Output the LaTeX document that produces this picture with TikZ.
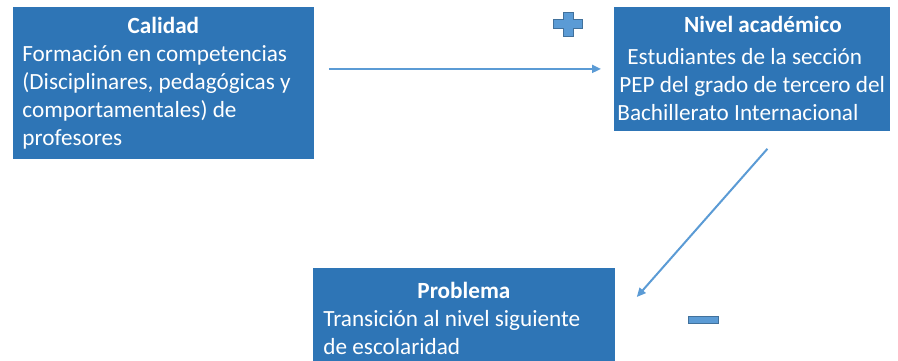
\documentclass[tikz,border=0pt]{standalone}
\usepackage{fontspec}
\setmainfont{Carlito}
\usetikzlibrary{arrows.meta}
\definecolor{boxblue}{HTML}{2E75B6}
\definecolor{lineblue}{HTML}{5B9BD5}
\definecolor{edgeblue}{HTML}{41719C}

\begin{document}
\begin{tikzpicture}[x=0.5pt,y=-0.5pt,
  box/.style={draw=boxblue, fill=boxblue, text=white, anchor=north west, align=flush left,
    inner ysep=0pt, font=\fontsize{11.6}{14}\selectfont},
  link/.style={draw=lineblue, line width=1pt, -{Triangle[length=4.5pt,width=4pt]}},
  sign/.style={fill=lineblue, draw=edgeblue, line width=0.4pt}]
\useasboundingbox (0,0) rectangle (898,360);

\node[box, inner xsep=4.5pt, text width=141pt, minimum width=150pt, minimum height=75.5pt] (calidad) at (13,7)
  {\makebox[\linewidth]{\textbf{Calidad}}\\
   Formación en competencias\\
   (Disciplinares, pedagógicas y\\
   comportamentales) de\\
   profesores};
\node[box, inner xsep=1.5pt, text width=134.5pt, minimum width=137.5pt, minimum height=61.5pt] (nivel) at (614,7)
  {\makebox[\linewidth]{\hspace*{11pt}\textbf{Nivel académico}}\\[2pt]
   \hspace*{5pt}Estudiantes de la sección\\
   \mbox{\hspace*{1pt}PEP del grado de tercero del}\\
   Bachillerato Internacional};
\node[box, inner xsep=5pt, text width=140.5pt, minimum width=150.5pt, minimum height=50pt] (problema) at (313,268)
  {\makebox[\linewidth]{\textbf{Problema}}\\
   Transición al nivel siguiente\\
   de escolaridad};

\draw[link] ([xshift=7.5pt]calidad.east |- nivel.west) -- ([xshift=-6.5pt]nivel.west);
\draw[link] ([xshift=7.75pt,yshift=-9pt]nivel.south) -- ([xshift=11pt,yshift=-14.5pt]problema.north east);

% signos
\draw[sign] (563,12) -- (573,12) -- (573,19) -- (582,19) -- (582,28) -- (573,28)
  -- (573,36) -- (563,36) -- (563,28) -- (553,28) -- (553,19) -- (563,19) -- cycle;
\draw[sign] (688,316) rectangle (718,323);
\end{tikzpicture}
\end{document}
